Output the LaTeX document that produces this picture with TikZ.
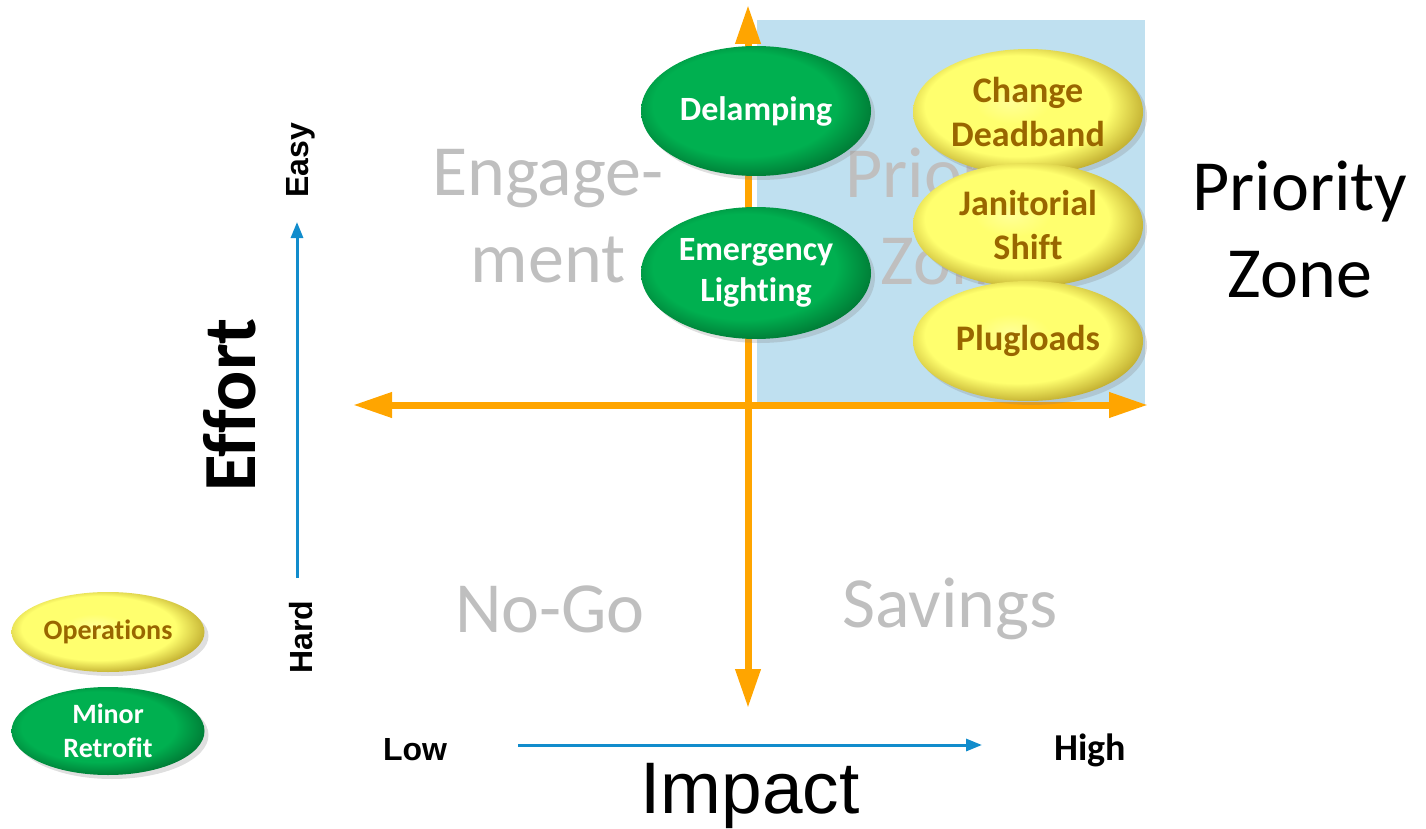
\documentclass[tikz,border=0pt]{standalone}
\usepackage{fontspec}
\setmainfont[Ligatures=NoCommon]{Carlito}
\newfontfamily\arialfont{Liberation Sans}
\usepackage{xcolor}
\usetikzlibrary{arrows.meta,shapes.geometric,shadows,positioning}

\definecolor{zoneblue}{RGB}{191,224,240}
\definecolor{axisorange}{RGB}{255,165,0}
\definecolor{axisblue}{RGB}{17,140,204}
\definecolor{quadgray}{RGB}{191,191,191}
\definecolor{opsbrown}{RGB}{153,102,0}
\definecolor{retrogreen}{RGB}{0,176,80}
\definecolor{retrorim}{RGB}{0,120,52}
\definecolor{opsyellow}{RGB}{255,255,110}
\definecolor{opslight}{RGB}{255,255,150}
\definecolor{opsrim}{RGB}{190,170,45}

\pgfdeclareradialshading{greenball}{\pgfpoint{-4bp}{4bp}}{color(0bp)=(retrogreen); color(20bp)=(retrogreen); color(28bp)=(retrorim); color(50bp)=(retrorim)}
\pgfdeclareradialshading{yellowball}{\pgfpoint{-4bp}{4bp}}{color(0bp)=(opslight); color(8bp)=(opsyellow); color(20bp)=(opsyellow); color(28bp)=(opsrim); color(50bp)=(opsrim)}

\begin{document}
\begin{tikzpicture}[x=1pt,y=-1pt,
    retro node/.style={ellipse,shading=greenball,text=white,align=center,inner sep=0pt,
      font=\bfseries\fontsize{34}{41}\selectfont,
      drop shadow={shadow xshift=4pt,shadow yshift=-4pt,opacity=0.25}},
    ops node/.style={ellipse,shading=yellowball,text=opsbrown,align=center,inner sep=0pt,
      font=\bfseries\fontsize{36}{44}\selectfont,
      drop shadow={shadow xshift=4pt,shadow yshift=-4pt,opacity=0.25}},
    quad label/.style={text=quadgray,align=center,font=\fontsize{72}{87}\selectfont},
    axis arrow/.style={axisorange,line width=7pt,
      {Triangle[length=39pt,width=24pt]}-{Triangle[length=39pt,width=24pt]}},
    scale arrow/.style={axisblue,line width=3pt,-{Triangle[length=16pt,width=12pt]}}]

  \useasboundingbox (0,0) rectangle (1426,829);

  % priority quadrant
  \fill[zoneblue] (757,20) rectangle (1145,405);

  \node[quad label] (engage) at (548,216) {Engage-\\ment};
  \node[quad label] (prio) at (953,216) {Priority\\Zone};
  \node[quad label] (nogo) at (550,609) {No-Go};
  \node[quad label] (savings) at (950,609) {Savings};

  % axes
  \coordinate (top) at (748,5);
  \coordinate (bottom) at (748,708);
  \coordinate (left) at (353,405);
  \coordinate (right) at (1148,405);
  \draw[axis arrow] (bottom) -- (top);
  \draw[axis arrow] (left) -- (right);

  % measures
  \node[retro node,minimum width=230pt,minimum height=130pt] (delamp) at (756,111) {Delamping};
  \node[retro node,minimum width=230pt,minimum height=132pt] (emerg) at (756,273) {Emergency\\Lighting};
  \node[ops node,minimum width=230pt,minimum height=126pt] (deadband) at (1028,112) {Change\\Deadband};
  \node[ops node,minimum width=230pt,minimum height=124pt] (janitor) at (1028,225) {Janitorial\\Shift};
  \node[ops node,minimum width=230pt,minimum height=120pt] (plug) at (1028,341) {Plugloads};

  % legend
  \node[ops node,minimum width=193pt,minimum height=80pt,font=\bfseries\fontsize{28}{34}\selectfont] (ops) at (108,632) {Operations};
  \node[retro node,minimum width=193pt,minimum height=88pt,font=\bfseries\fontsize{28}{34}\selectfont] (retro) at (108,731) {Minor\\Retrofit};

  % axis titles
  \node[font=\fontsize{72}{87}\selectfont,align=center] (zone) at (1300,229) {Priority\\Zone};
  \node[font=\bfseries\fontsize{75}{86}\selectfont,rotate=90] (effort) at (230,405) {Effort};
  \node[font=\arialfont\fontsize{73}{86}\selectfont,inner sep=0pt] (impact) at (750,796) {Impact};

  \node[font=\arialfont\bfseries\fontsize{32}{38}\selectfont,rotate=90] (easy) at (301,160) {Easy};
  \node[font=\arialfont\bfseries\fontsize{32}{38}\selectfont,rotate=90] (hard) at (301,637) {Hard};
  \node[font=\arialfont\bfseries\fontsize{32}{38}\selectfont] (low) at (415,750) {Low};
  \node[font=\bfseries\fontsize{38}{44}\selectfont] (high) at (1090,750) {High};

  \coordinate (hardend) at (297,578);
  \coordinate (easyend) at (297,222);
  \coordinate (lowend) at (518,745);
  \coordinate (highend) at (982,745);
  \draw[scale arrow] (hardend) -- (easyend);
  \draw[scale arrow] (lowend) -- (highend);

\end{tikzpicture}
\end{document}
